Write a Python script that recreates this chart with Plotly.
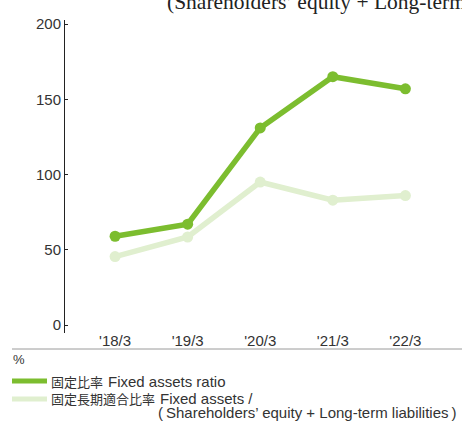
import plotly.graph_objects as go

categories = ["'18/3", "'19/3", "'20/3", "'21/3", "'22/3"]
fixed_assets_ratio = [59, 67, 131, 165, 157]
fixed_long_term_ratio = [45.5, 58.5, 95, 83, 86]
y_ticks = [0, 50, 100, 150, 200]

GREEN = "#7cbd2f"
LIGHT = "#e0efcf"
FONT = "Liberation Sans, Arial, sans-serif"
CJK = "Noto Sans CJK JP, sans-serif"

W, H = 462, 421
L, R, T, B = 65, 0, 20, 88
PW, PH = W - L - R, H - T - B


def px(x):
    return (x - L) / PW


def py(y):
    return (H - B - y) / PH


fig = go.Figure()
fig.add_trace(go.Scatter(
    x=list(range(len(categories))), y=fixed_long_term_ratio, mode="lines+markers",
    line=dict(color=LIGHT, width=5.5), marker=dict(color=LIGHT, size=11),
    showlegend=False, hoverinfo="skip", cliponaxis=False))
fig.add_trace(go.Scatter(
    x=list(range(len(categories))), y=fixed_assets_ratio, mode="lines+markers",
    line=dict(color=GREEN, width=5.5), marker=dict(color=GREEN, size=11),
    showlegend=False, hoverinfo="skip", cliponaxis=False))

shapes = [
    dict(type="line", xref="paper", yref="paper", x0=px(12), x1=px(462), y0=py(349), y1=py(349),
         line=dict(color="#9a9a9a", width=1)),
    dict(type="line", xref="paper", yref="paper", x0=px(12), x1=px(47), y0=py(381), y1=py(381),
         line=dict(color=GREEN, width=5)),
    dict(type="line", xref="paper", yref="paper", x0=px(12), x1=px(47), y0=py(399), y1=py(399),
         line=dict(color=LIGHT, width=5)),
]

ann = []


def text(x, y, s, size, family=FONT, color="#333333", xanchor="left"):
    ann.append(dict(x=px(x), y=py(y), xref="paper", yref="paper", text=s, showarrow=False,
                    xanchor=xanchor, yanchor="middle", font=dict(size=size, family=family, color=color)))


text(11, 359, "%", 13)
text(49, 381, "固定比率", 13, CJK)
text(106, 381, "Fixed assets ratio", 15)
text(49, 398.5, "固定長期適合比率", 13, CJK)
text(158, 398.5, "Fixed assets /", 15)
text(156, 412.5, "(\u2009Shareholders’ equity + Long-term liabilities\u2009)", 15)
text(165, 2, "(Shareholders’ equity + Long-term liabilities)", 21.5,
     "Liberation Serif, Times New Roman, serif", "#222222")

fig.update_layout(
    width=W, height=H, margin=dict(l=L, r=R, t=T, b=B),
    paper_bgcolor="white", plot_bgcolor="white",
    shapes=shapes, annotations=ann,
    xaxis=dict(range=[-0.69, 4.78], tickvals=list(range(len(categories))), ticktext=categories,
               showgrid=False, zeroline=False, showline=False, ticks="", ticklabelstandoff=-3,
               tickfont=dict(size=15, family=FONT, color="#333333")),
    yaxis=dict(range=[-5.3, 202.7], tickvals=y_ticks, showgrid=False, zeroline=False,
               showline=True, linecolor="#222222", linewidth=1, ticks="inside", ticklen=3,
               tickcolor="#222222", tickfont=dict(size=15, family=FONT, color="#333333")),
)

fig.write_html("out.html", config={"displayModeBar": False},
               post_script="document.body.style.margin='0';")
